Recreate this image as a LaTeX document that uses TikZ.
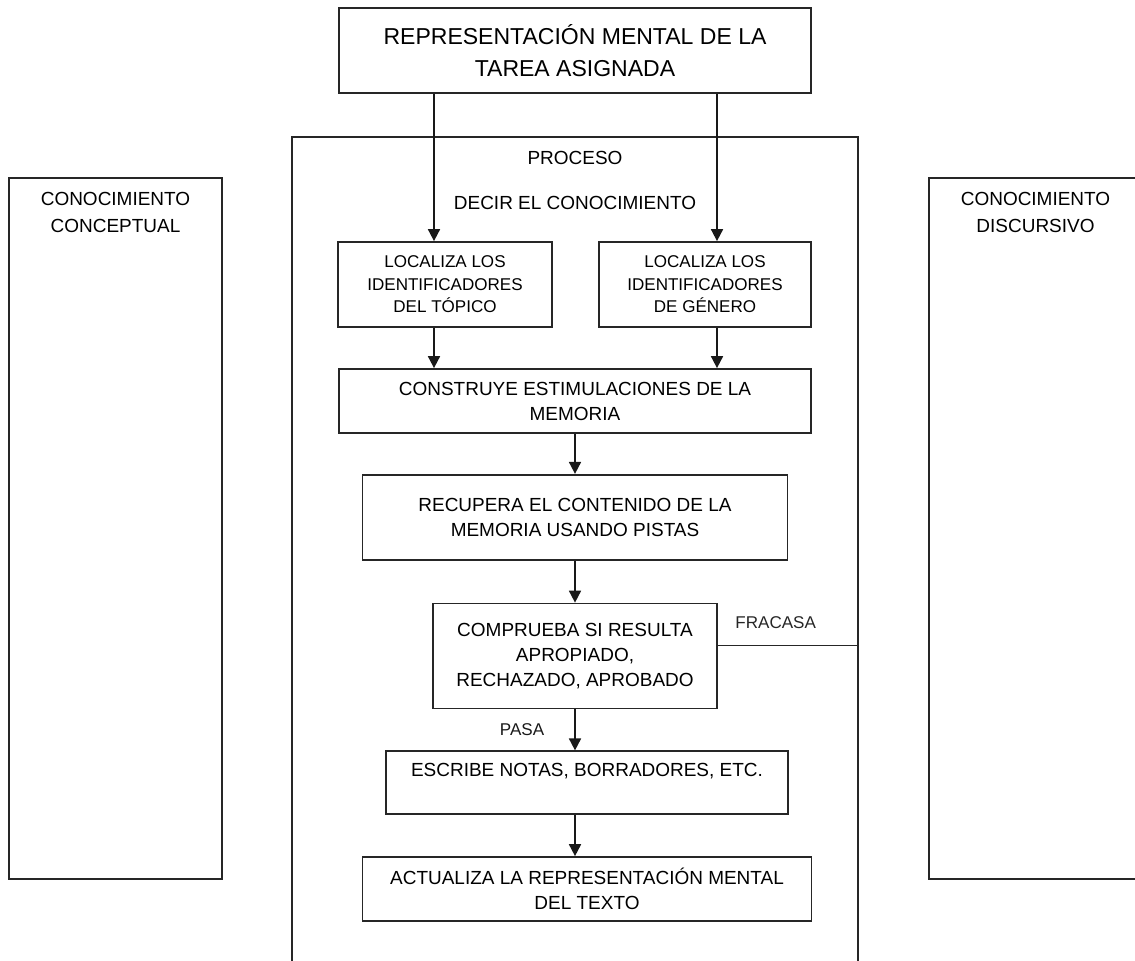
\documentclass[tikz,border=0pt]{standalone}
\usepackage{fontspec}
\setmainfont{Liberation Sans}
\usetikzlibrary{arrows.meta, positioning}

\newcommand{\txtnormal}{\fontsize{10.8}{14.2}\selectfont}
\newcommand{\txtside}{\fontsize{10.8}{15.4}\selectfont}
\newcommand{\txtsmall}{\fontsize{9.7}{12.8}\selectfont}
\newcommand{\txtlarge}{\fontsize{13.1}{18.2}\selectfont}

\begin{document}
\begin{tikzpicture}[
    node distance=0.8cm,
    box/.style={draw=black!85, line width=1pt, rectangle, align=center, font=\txtnormal, inner sep=0pt},
    sidebox/.style={box, minimum width=4.26cm, minimum height=14.02cm},
    lbl/.style={font=\txtsmall, inner sep=0pt},
    arrow/.style={-{Triangle[width=6.8pt, length=6.8pt]}, line width=1pt, black!90},
    line/.style={line width=1pt, black!85}
]
    \useasboundingbox (0,0) rectangle (22.7,-19.2);

    % Tarea asignada
    \node[box, font=\txtlarge, minimum width=9.44cm, minimum height=1.70cm] (tarea) at (11.5,-1.01) {REPRESENTACIÓN MENTAL DE LA\\TAREA ASIGNADA};

    % Proceso
    \node[box, minimum width=11.32cm, minimum height=16.8cm, below=0.84cm of tarea] (proceso) {};
    \node[font=\txtnormal, inner sep=0pt] (titulo) at ([yshift=-0.44cm]proceso.north) {PROCESO};
    \node[font=\txtnormal, inner sep=0pt] (decir) at ([yshift=-0.9cm]titulo) {DECIR EL CONOCIMIENTO};

    % Identificadores
    \node[box, font=\txtsmall, minimum width=4.28cm, minimum height=1.70cm] (topico) at (8.9,-5.69) {LOCALIZA LOS\\IDENTIFICADORES\\DEL TÓPICO};
    \node[box, font=\txtsmall, minimum width=4.24cm, minimum height=1.70cm] (genero) at (14.1,-5.69) {LOCALIZA LOS\\IDENTIFICADORES\\DE GÉNERO};

    % Memoria
    \node[box, minimum width=9.44cm, minimum height=1.28cm] (construye) at (11.5,-8.02) {CONSTRUYE ESTIMULACIONES DE LA\\MEMORIA};
    \node[box, minimum width=8.5cm, minimum height=1.70cm, below=of construye] (recupera) {RECUPERA EL CONTENIDO DE LA\\MEMORIA USANDO PISTAS};

    % Comprobacion
    \node[box, minimum width=5.68cm, minimum height=2.10cm, below=0.84cm of recupera] (comprueba) {COMPRUEBA SI RESULTA\\APROPIADO,\\RECHAZADO, APROBADO};

    % Escritura
    \node[box, minimum width=8.04cm, minimum height=1.26cm, below=0.82cm of comprueba, xshift=0.24cm] (escribe) {ESCRIBE NOTAS, BORRADORES, ETC.\\\mbox{}};
    \node[box, minimum width=8.98cm, minimum height=1.28cm, below=0.82cm of escribe] (actualiza) {ACTUALIZA LA REPRESENTACIÓN MENTAL\\DEL TEXTO};

    % Conocimientos
    \node[sidebox] (conceptual) at (2.31,-10.57) {};
    \node[font=\txtside, align=center, inner sep=0pt] (conceptualtxt) at ([yshift=-0.71cm]conceptual.north) {CONOCIMIENTO\\CONCEPTUAL};
    \node[sidebox] (discursivo) at (20.71,-10.57) {};
    \node[font=\txtside, align=center, inner sep=0pt] (discursivotxt) at ([yshift=-0.71cm]discursivo.north) {CONOCIMIENTO\\DISCURSIVO};

    % Arrows
    \coordinate (t1) at ([xshift=-0.22cm]topico.north);
    \coordinate (t2) at ([xshift=0.24cm]genero.north);
    \draw[arrow] (t1 |- tarea.south) -- (t1);
    \draw[arrow] (t2 |- tarea.south) -- (t2);
    \draw[arrow] (t1 |- topico.south) -- (t1 |- construye.north);
    \draw[arrow] (t2 |- genero.south) -- (t2 |- construye.north);
    \draw[arrow] (construye) -- (recupera);
    \draw[arrow] (recupera) -- (comprueba);
    \draw[arrow] (comprueba.south) -- node[lbl, left=0.6cm] {PASA} (comprueba.south |- escribe.north);
    \draw[arrow] (comprueba.south |- escribe.south) -- (comprueba.south |- actualiza.north);

    % Fracasa
    \coordinate (f1) at ([yshift=0.21cm]comprueba.east);
    \draw[line] (f1) -- node[lbl, pos=0.41, above=0.32cm] {FRACASA} (f1 -| proceso.east);

\end{tikzpicture}
\end{document}
